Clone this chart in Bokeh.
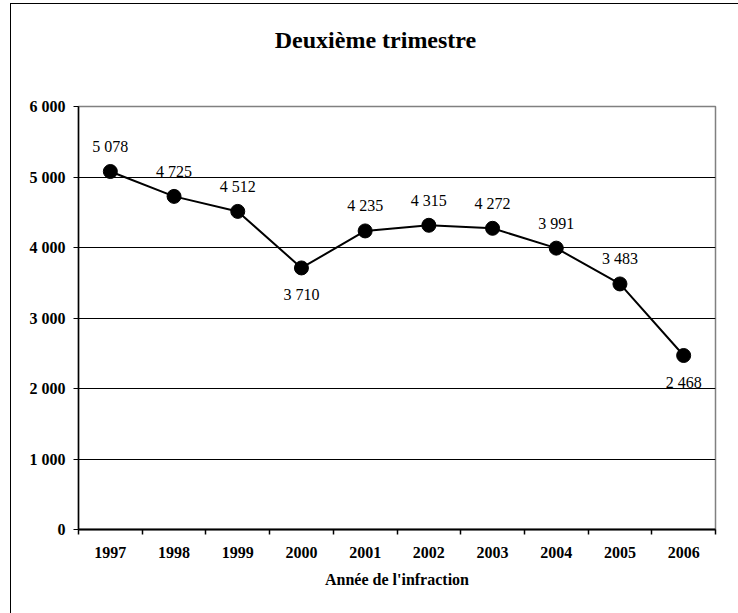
from bokeh.plotting import figure
from bokeh.models import FixedTicker, ColumnDataSource, LabelSet, Div, InlineStyleSheet
from bokeh.layouts import column
from bokeh.embed import file_html
from bokeh.resources import INLINE

years = ["1997", "1998", "1999", "2000", "2001", "2002", "2003", "2004", "2005", "2006"]
counts = [5078, 4725, 4512, 3710, 4235, 4315, 4272, 3991, 3483, 2468]
below_idx = [3, 9]
y_ticks = [0, 1000, 2000, 3000, 4000, 5000, 6000]
title_text = "Deuxième trimestre"
x_title = "Année de l'infraction"

FONT = "Liberation Serif"
css = InlineStyleSheet(css="text, tspan { font-family: 'Liberation Serif', 'Times New Roman', serif !important; }")

def fmt(v):
    return f"{v:,}".replace(",", " ")

xs = list(range(1, len(years) + 1))
labels = [fmt(v) for v in counts]

head = Div(text=title_text, width=719, height=80,
           styles={"text-align": "center", "font-family": "'Liberation Serif', 'Times New Roman', serif",
                   "font-weight": "bold", "font-size": "24px", "line-height": "24px", "color": "black",
                   "padding-top": "19px", "box-sizing": "border-box"})

p = figure(width=719, height=529, output_backend="svg", toolbar_location=None,
           x_range=(0.5, len(years) + 0.5), y_range=(0, 6000),
           min_border_left=67, min_border_right=15, min_border_top=12, min_border_bottom=94)
p.stylesheets = [css]
p.title.visible = False

p.outline_line_color = "#808080"
p.outline_line_width = 1.5

# grid
p.xgrid.visible = False
p.ygrid.ticker = FixedTicker(ticks=y_ticks)
p.ygrid.grid_line_color = "black"
p.ygrid.grid_line_width = 1

# y axis
p.yaxis.ticker = FixedTicker(ticks=y_ticks)
p.yaxis.major_label_overrides = {v: fmt(v) for v in y_ticks}
p.yaxis.major_label_text_font = FONT
p.yaxis.major_label_text_font_style = "bold"
p.yaxis.major_label_text_font_size = "16px"
p.yaxis.major_label_text_color = "black"
p.yaxis.axis_line_color = "black"
p.yaxis.axis_line_width = 1.5
p.yaxis.major_tick_in = 0
p.yaxis.major_tick_out = 5
p.yaxis.major_tick_line_color = "black"
p.yaxis.minor_tick_line_color = None
p.yaxis.major_label_standoff = 8

# x axis
p.xaxis.ticker = FixedTicker(ticks=xs, minor_ticks=[x - 0.5 for x in xs] + [len(xs) + 0.5])
p.xaxis.major_label_overrides = {x: y for x, y in zip(xs, years)}
p.xaxis.major_label_text_font = FONT
p.xaxis.major_label_text_font_style = "bold"
p.xaxis.major_label_text_font_size = "16px"
p.xaxis.major_label_text_color = "black"
p.xaxis.axis_line_color = "black"
p.xaxis.axis_line_width = 2
p.xaxis.major_tick_in = 0
p.xaxis.major_tick_out = 0
p.xaxis.minor_tick_in = 0
p.xaxis.minor_tick_out = 5
p.xaxis.minor_tick_line_color = "black"
p.xaxis.minor_tick_line_width = 1.5
p.xaxis.major_label_standoff = 12
p.xaxis.axis_label = x_title
p.xaxis.axis_label_text_font = FONT
p.xaxis.axis_label_text_font_style = "bold"
p.xaxis.axis_label_text_font_size = "16px"
p.xaxis.axis_label_text_color = "black"
p.xaxis.axis_label_standoff = 10

src = ColumnDataSource(dict(x=xs, y=counts, lab=labels))
p.line("x", "y", source=src, line_color="black", line_width=2)
p.scatter("x", "y", source=src, size=14, fill_color="black", line_color="black")

above = [i for i in range(len(xs)) if i not in below_idx]
src_a = ColumnDataSource(dict(x=[xs[i] for i in above], y=[counts[i] for i in above], lab=[labels[i] for i in above]))
src_b = ColumnDataSource(dict(x=[xs[i] for i in below_idx], y=[counts[i] for i in below_idx], lab=[labels[i] for i in below_idx]))
p.add_layout(LabelSet(x="x", y="y", text="lab", source=src_a, text_font=FONT, text_font_size="16px",
                      text_align="center", text_baseline="middle", y_offset=25, text_color="black"))
p.add_layout(LabelSet(x="x", y="y", text="lab", source=src_b, text_font=FONT, text_font_size="16px",
                      text_align="center", text_baseline="middle", y_offset=-27, text_color="black"))

layout = column(head, p, spacing=0)
layout.margin = (3, 7, 0, 10)
layout.styles = {"border": "1px solid black", "border-bottom": "none"}

open("out.html", "w").write(file_html(layout, INLINE))
